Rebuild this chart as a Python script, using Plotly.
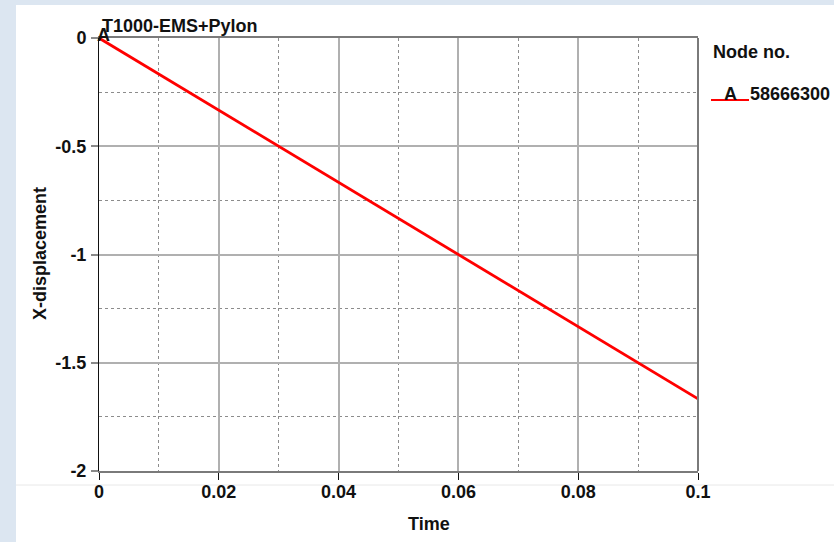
import plotly.graph_objects as go

time = [0, 0.03, 0.06, 0.09, 0.1]
x_disp = [0, -0.5, -1.0, -1.5, -1.667]
series_name = "58666300"
series_label = "A"
legend_title = "Node no."
title_text = "T1000-EMS+Pylon"
x_title = "Time"
y_title = "X-displacement"
x_ticks = [0, 0.02, 0.04, 0.06, 0.08, 0.1]
x_tick_text = ["0", "0.02", "0.04", "0.06", "0.08", "0.1"]
y_ticks = [0, -0.5, -1, -1.5, -2]
y_tick_text = ["0", "-0.5", "-1", "-1.5", "-2"]

FONT = "Arial, 'Liberation Sans', sans-serif"
FS = 18
TXT = "#111111"
L, R, T, B = 99, 136, 38, 71
W, H = 834, 542
PW, PH = W - L - R, H - T - B


def px(xp):
    return (xp - L) / PW


def py(yp):
    return 1 - (yp - T) / PH


fig = go.Figure()
fig.add_trace(go.Scatter(
    x=time, y=x_disp, mode="lines", name=series_name,
    line=dict(color="#ff0000", width=2.8), showlegend=False,
))

shapes = [
    dict(type="rect", xref="paper", yref="paper", x0=px(0), x1=px(16), y0=py(H), y1=py(0),
         fillcolor="#dce6f1", line=dict(width=0), layer="below"),
    dict(type="rect", xref="paper", yref="paper", x0=px(0), x1=px(W), y0=py(5), y1=py(0),
         fillcolor="#dce6f1", line=dict(width=0), layer="below"),
    dict(type="line", xref="paper", yref="paper", x0=px(16), x1=px(W), y0=py(485), y1=py(485),
         line=dict(color="#e8e8e8", width=1), layer="below"),
    # right frame edge
    dict(type="line", xref="paper", yref="paper", x0=1, x1=1, y0=0, y1=1,
         line=dict(color="#7a7a7a", width=2)),
    # legend line sample
    dict(type="line", xref="paper", yref="paper", x0=px(711), x1=px(749), y0=py(100), y1=py(100),
         line=dict(color="#ff0000", width=2)),
]


def ann(text, x, y, xanchor="left", yanchor="middle", **kw):
    d = dict(text="<b>%s</b>" % text, xref="paper", yref="paper", x=x, y=y,
             xanchor=xanchor, yanchor=yanchor, showarrow=False,
             font=dict(family=FONT, size=FS, color=TXT))
    d.update(kw)
    return d


annotations = [
    ann(title_text, px(100), py(26)),
    dict(text="<b>%s</b>" % series_label, x=time[0], y=x_disp[0], xref="x", yref="y",
         xanchor="center", yanchor="middle", xshift=4, yshift=3, showarrow=False,
         font=dict(family=FONT, size=FS, color=TXT)),
    ann(legend_title, px(711), py(52)),
    ann(series_label, px(730), py(94), xanchor="center"),
    ann(series_name, px(748), py(94)),
    ann(x_title, px(429), py(524), xanchor="center"),
    ann(y_title, px(40), py(254), xanchor="center", textangle=-90),
]

fig.update_layout(
    width=W, height=H,
    margin=dict(l=L, r=R, t=T, b=B),
    paper_bgcolor="#ffffff", plot_bgcolor="#ffffff",
    shapes=shapes, annotations=annotations,
    showlegend=False,
    font=dict(family=FONT, color=TXT),
)
fig.update_xaxes(
    range=[0, 0.1], tickvals=x_ticks, ticktext=["<b>%s</b>" % t for t in x_tick_text],
    tickfont=dict(family=FONT, size=FS, color=TXT),
    ticks="outside", ticklen=7, tickcolor="#111", tickwidth=1, ticklabelstandoff=-4,
    showline=True, linecolor="#7a7a7a", linewidth=2, mirror=True,
    showgrid=True, gridcolor="#b0b0b0", gridwidth=2,
    minor=dict(dtick=0.01, showgrid=True, gridcolor="#8c8c8c", griddash="3px,3px", gridwidth=1),
    zeroline=False,
)
fig.update_yaxes(
    range=[-2, 0], tickvals=y_ticks, ticktext=["<b>%s</b>" % t for t in y_tick_text],
    tickfont=dict(family=FONT, size=FS, color=TXT),
    ticks="outside", ticklen=7, tickcolor="#8a8a8a", tickwidth=2, ticklabelstandoff=1,
    showline=True, linecolor="#111111", linewidth=1, mirror=False,
    showgrid=True, gridcolor="#b0b0b0", gridwidth=2,
    minor=dict(dtick=0.25, showgrid=True, gridcolor="#8c8c8c", griddash="3px,3px", gridwidth=1),
    zeroline=False,
)

fig.write_html("out.html")
